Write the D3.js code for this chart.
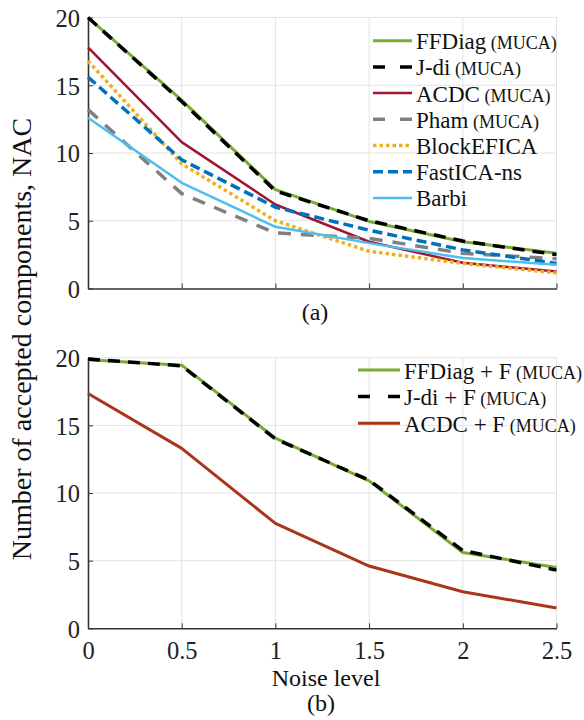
<!DOCTYPE html>
<html>
<head>
<meta charset="utf-8">
<script src="https://cdn.jsdelivr.net/npm/d3@7/dist/d3.min.js"></script>
<style>
  body { margin: 0; background: #fff; }
</style>
</head>
<body>
<svg id="chart" width="584" height="720" font-family="Liberation Serif"></svg>
<script>
// noise levels (x axis, both panels)
var noise = [0, 0.5, 1, 1.5, 2, 2.5];
var yTicks = [0, 5, 10, 15, 20];

// panel (a)
var ffdiag = [20, 13.9, 7.3, 4.95, 3.45, 2.6];
var jdi = [20, 13.8, 7.2, 5.0, 3.5, 2.5];
var acdc = [17.8, 10.8, 6.2, 3.45, 1.9, 1.25];
var pham = [13.2, 7.0, 4.1, 3.7, 2.6, 2.2];
var blockEfica = [16.8, 9.2, 5.0, 2.75, 1.85, 1.15];
var fastIcaNs = [15.6, 9.5, 6.0, 4.3, 2.85, 1.85];
var barbi = [12.6, 7.8, 4.55, 3.35, 2.25, 1.75];

// panel (b)
var ffdiagF = [19.85, 19.45, 14.05, 10.9, 5.6, 4.5];
var jdiF = [19.9, 19.4, 14.0, 10.95, 5.75, 4.3];
var acdcF = [17.35, 13.3, 7.75, 4.6, 2.7, 1.5];

var namesA = ['FFDiag', 'J-di', 'ACDC', 'Pham', 'BlockEFICA', 'FastICA-ns', 'Barbi'];
var tagsA = ['(MUCA)', '(MUCA)', '(MUCA)', '(MUCA)', '', '', ''];
var namesB = ['FFDiag + F', 'J-di + F', 'ACDC + F'];
var tagsB = ['(MUCA)', '(MUCA)', '(MUCA)'];

var styles = {
  'FFDiag': { color: '#77ac30', width: 3, dash: null },
  'J-di': { color: '#000000', width: 3.5, dash: '12,8', legDash: '12,15' },
  'ACDC': { color: '#a2142f', width: 2.5, dash: null },
  'Pham': { color: '#808080', width: 3.5, dash: '13,10', legDash: '12,15' },
  'BlockEFICA': { color: '#edb120', width: 3.5, dash: '3.5,3' },
  'FastICA-ns': { color: '#0072bd', width: 3.5, dash: '10,5' },
  'Barbi': { color: '#4dbeee', width: 2.5, dash: null },
  'FFDiag + F': { color: '#77ac30', width: 3, dash: null },
  'J-di + F': { color: '#000000', width: 3.5, dash: '12,8', legDash: '12,18' },
  'ACDC + F': { color: '#a9361b', width: 3, dash: null }
};

var svg = d3.select('#chart');
var axisColor = '#333333';
var gridColor = '#e3e3e3';
var serif = 'Liberation Serif';

var x = d3.scaleLinear().domain([0, 2.5]).range([88, 556.5]);

function drawPanel(yRange, names, tags, seriesData, showXLabels, legX, legY, legLen, legStep) {
  var y = d3.scaleLinear().domain([0, 20]).range(yRange);
  var g = svg.append('g');

  // grid
  g.selectAll('line.vgrid')
    .data(noise.slice(1))
    .enter()
    .append('line')
    .attr('x1', function (d) { return x(d); })
    .attr('x2', function (d) { return x(d); })
    .attr('y1', y(0))
    .attr('y2', y(20))
    .attr('stroke', gridColor)
    .attr('stroke-width', 1);

  g.selectAll('line.hgrid')
    .data(yTicks.slice(1))
    .enter()
    .append('line')
    .attr('x1', x(0))
    .attr('x2', x(2.5))
    .attr('y1', function (d) { return y(d); })
    .attr('y2', function (d) { return y(d); })
    .attr('stroke', gridColor)
    .attr('stroke-width', 1);

  // axes
  var xAxis = d3.axisBottom(x).tickValues(noise).tickSizeInner(-5).tickSizeOuter(0)
    .tickFormat(showXLabels ? d3.format('') : function () { return ''; })
    .tickPadding(13);
  var xg = g.append('g')
    .attr('transform', 'translate(0,' + y(0) + ')')
    .call(xAxis);

  var yAxis = d3.axisLeft(y).tickValues(yTicks).tickSizeInner(-5).tickSizeOuter(0).tickPadding(8);
  var yg = g.append('g')
    .attr('transform', 'translate(' + x(0) + ',0)')
    .call(yAxis);

  [xg, yg].forEach(function (a) {
    a.attr('font-family', serif).attr('font-size', 24.5);
    a.select('.domain').attr('stroke', axisColor).attr('stroke-width', 1.6);
    a.selectAll('.tick line').attr('stroke', axisColor).attr('stroke-width', 1);
    a.selectAll('.tick text').attr('fill', '#222').attr('font-family', serif);
  });
  yg.selectAll('.tick text').attr('dy', '0.36em');

  // lines
  var line = d3.line()
    .x(function (d, i) { return x(noise[i]); })
    .y(function (d) { return y(d); });

  names.forEach(function (name, i) {
    var s = styles[name];
    g.append('path')
      .datum(seriesData[i])
      .attr('fill', 'none')
      .attr('stroke', s.color)
      .attr('stroke-width', s.width)
      .attr('stroke-dasharray', s.dash)
      .attr('stroke-linejoin', 'round')
      .attr('d', line);
  });

  // legend
  var leg = g.append('g').attr('transform', 'translate(' + legX + ',' + legY + ')');
  names.forEach(function (name, i) {
    var s = styles[name];
    var row = leg.append('g').attr('transform', 'translate(0,' + (i * legStep) + ')');
    row.append('line')
      .attr('x1', 0).attr('x2', legLen)
      .attr('y1', 0).attr('y2', 0)
      .attr('stroke', s.color)
      .attr('stroke-width', s.width)
      .attr('stroke-dasharray', s.legDash || s.dash);
    var t = row.append('text')
      .attr('x', legLen + 4)
      .attr('y', 8.5)
      .attr('fill', '#111')
      .attr('font-family', serif)
      .attr('font-size', 23)
      .text(name);
    if (tags[i]) {
      t.append('tspan').attr('font-size', 18).text(' ' + tags[i]);
    }
  });
  return y;
}

drawPanel([288.5, 17.5], namesA, tagsA,
  [ffdiag, jdi, acdc, pham, blockEfica, fastIcaNs, barbi], false, 373, 40.7, 39, 26.2);
drawPanel([628.3, 357.7], namesB, tagsB,
  [ffdiagF, jdiF, acdcF], true, 358, 370, 42, 26.6);

// captions
function caption(tx, ty, size, text, rotate) {
  svg.append('text')
    .attr('transform', 'translate(' + tx + ',' + ty + ')' + (rotate ? ' rotate(-90)' : ''))
    .attr('text-anchor', 'middle')
    .attr('fill', '#111')
    .attr('font-family', serif)
    .attr('font-size', size)
    .text(text);
}

caption(315, 320, 24, '(a)');
caption(326, 686, 24, 'Noise level');
caption(321, 711, 24, '(b)');
caption(31, 339, 28, 'Number of accepted components, NAC', true);
</script>
</body>
</html>
